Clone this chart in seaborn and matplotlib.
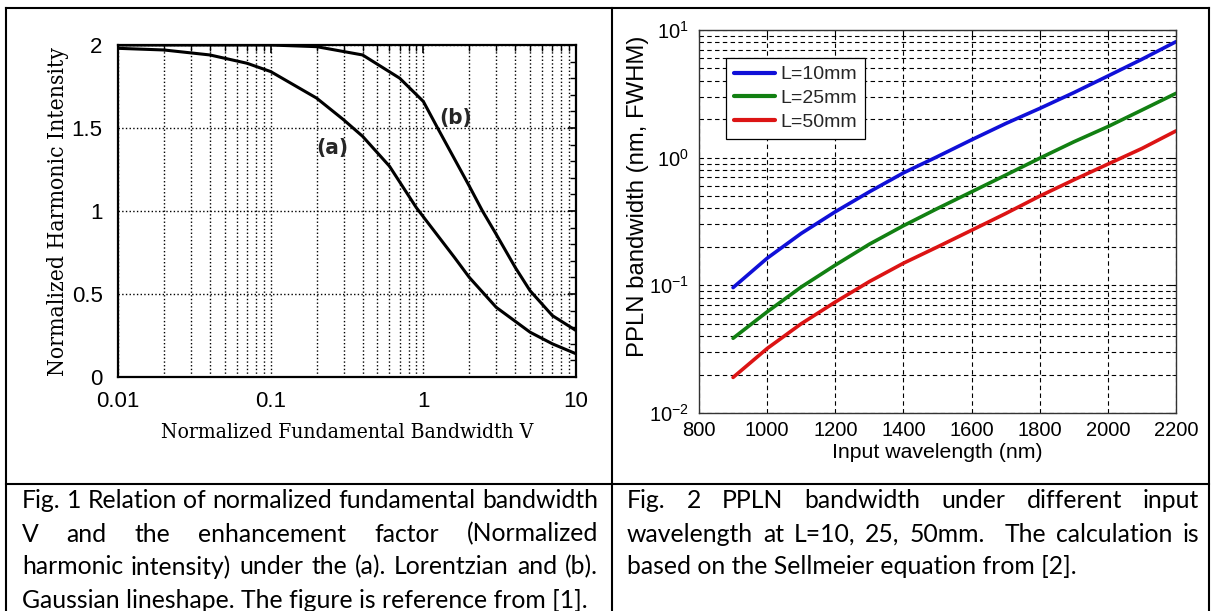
import numpy as np
import pandas as pd
import matplotlib
matplotlib.use("Agg")
import matplotlib.pyplot as plt
from matplotlib.lines import Line2D
from matplotlib.ticker import LogLocator, NullFormatter, FixedLocator, MultipleLocator
import seaborn as sns

# ---------------- data: Fig. 1 ----------------
lorentz_v = [0.01, 0.02, 0.04, 0.07, 0.1, 0.2, 0.3, 0.4, 0.6, 0.9, 1.2, 1.6, 2.0, 3.0, 5.0, 7.0, 10.0]
lorentz_i = [1.98, 1.97, 1.94, 1.89, 1.84, 1.68, 1.55, 1.45, 1.27, 1.02, 0.87, 0.72, 0.60, 0.42, 0.27, 0.20, 0.14]
gauss_v = [0.01, 0.05, 0.1, 0.2, 0.4, 0.7, 1.0, 1.24, 2.0, 2.44, 3.0, 4.0, 5.0, 7.0, 10.0]
gauss_i = [2.0, 2.0, 2.0, 1.99, 1.94, 1.80, 1.66, 1.50, 1.15, 1.0, 0.86, 0.66, 0.52, 0.37, 0.28]
fig1_xticks = [0.01, 0.1, 1, 10]
fig1_xticklabels = ["0.01", "0.1", "1", "10"]
fig1_yticks = [0, 0.5, 1, 1.5, 2]
fig1_yticklabels = ["0", "0.5", "1", "1.5", "2"]

# ---------------- data: Fig. 2 ----------------
wavelength = [900, 1000, 1100, 1200, 1300, 1400, 1500, 1600, 1700, 1800, 1900, 2000, 2100, 2200]
bw_10mm = [0.096, 0.163, 0.255, 0.377, 0.54, 0.76, 1.02, 1.38, 1.85, 2.43, 3.23, 4.36, 5.9, 8.1]
bw_25mm = [0.0385, 0.062, 0.097, 0.144, 0.21, 0.293, 0.40, 0.54, 0.73, 0.99, 1.33, 1.75, 2.36, 3.19]
bw_50mm = [0.019, 0.032, 0.050, 0.074, 0.107, 0.149, 0.20, 0.27, 0.365, 0.50, 0.67, 0.89, 1.18, 1.62]
series_names = ["L=10mm", "L=25mm", "L=50mm"]
series_colors = ["#1010d8", "#128012", "#dc1414"]
fig2_xticks = [800, 1000, 1200, 1400, 1600, 1800, 2000, 2200]

caption_left = [
    "Fig. 1 Relation of normalized fundamental bandwidth",
    "V and the enhancement factor (Normalized",
    "harmonic intensity) under the (a). Lorentzian and (b).",
    "Gaussian lineshape. The figure is reference from [1].",
]
caption_right = [
    "Fig. 2 PPLN bandwidth under different input",
    "wavelength at L=10, 25, 50mm.  The calculation is",
    "based on the Sellmeier equation from [2].",
]

# ---------------- figure ----------------
sns.set_style("white")
plt.rcParams["font.family"] = ["Liberation Sans", "DejaVu Sans"]
plt.rcParams["mathtext.fontset"] = "custom"
plt.rcParams["mathtext.rm"] = "Liberation Sans"
plt.rcParams["mathtext.it"] = "Liberation Sans:italic"
plt.rcParams["mathtext.bf"] = "Liberation Sans:bold"

W, H = 1214, 611
fig = plt.figure(figsize=(W / 100, H / 100), dpi=100)
fig.patch.set_facecolor("white")
renderer = fig.canvas.get_renderer()


def fx(px):
    return px / W


def fy(py):
    return 1 - py / H


def fit(t, target, dim="w"):
    bb = t.get_window_extent(renderer)
    cur = bb.width if dim == "w" else bb.height
    t.set_fontsize(t.get_fontsize() * target / cur)


# ---- left chart ----
L0, L1, T0, B0 = 118, 576, 45, 377
ax1 = fig.add_axes([fx(L0), fy(B0), (L1 - L0) / W, (B0 - T0) / H])
sns.lineplot(x=lorentz_v, y=lorentz_i, ax=ax1, color="black", lw=2.2, estimator=None, sort=False)
sns.lineplot(x=gauss_v, y=gauss_i, ax=ax1, color="black", lw=2.2, estimator=None, sort=False)
ax1.set_xscale("log")
ax1.set_xlim(0.01, 10)
ax1.set_ylim(0, 2)
ax1.xaxis.set_major_locator(FixedLocator(fig1_xticks))
ax1.set_xticklabels(fig1_xticklabels)
ax1.xaxis.set_minor_locator(LogLocator(base=10, subs=np.arange(2, 10)))
ax1.xaxis.set_minor_formatter(NullFormatter())
ax1.set_yticks(fig1_yticks)
ax1.set_yticklabels(fig1_yticklabels)
ax1.yaxis.set_minor_locator(MultipleLocator(0.1))
ax1.grid(False)
ax1.yaxis.grid(True, which="major", ls=":", color="black", lw=1.0)
ax1.xaxis.grid(True, which="both", ls=":", color="black", lw=1.0)
for s in ax1.spines.values():
    s.set_color("black")
    s.set_linewidth(1.6)
ax1.tick_params(which="both", direction="in", top=True, right=True, colors="black", labelsize=16)
ax1.tick_params(which="major", length=6, width=1.2)
ax1.tick_params(which="minor", length=4, width=1.0)
ax1.tick_params(axis="x", pad=10)
ax1.tick_params(axis="y", pad=11)
ax1.text(0.254, 1.38, "(a)", ha="center", va="center", fontsize=16, fontweight="bold",
         fontstretch="condensed", family=["DejaVu Sans"])
ax1.text(1.62, 1.56, "(b)", ha="center", va="center", fontsize=16, fontweight="bold",
         fontstretch="condensed", family=["DejaVu Sans"])
yl = ax1.set_ylabel("Normalized Harmonic Intensity", family=["DejaVu Serif"], fontsize=14,
                    fontstretch="condensed", color="black")
yl.set_va("center")
ax1.yaxis.set_label_coords((58 - L0) / (L1 - L0), 0.5)
fit(yl, 330, "h")
xl = ax1.set_xlabel("Normalized Fundamental Bandwidth V", family=["DejaVu Serif"], fontsize=14,
                    fontstretch="condensed", color="black")
xl.set_va("center")
ax1.xaxis.set_label_coords(0.5, -(432 - B0) / (B0 - T0))
fit(xl, 376, "w")

# ---- right chart ----
R0, R1, RT, RB = 699, 1176, 30, 413
ax2 = fig.add_axes([fx(R0), fy(RB), (R1 - R0) / W, (RB - RT) / H])
df = pd.DataFrame({
    "wavelength": wavelength * 3,
    "bandwidth": bw_10mm + bw_25mm + bw_50mm,
    "L": [series_names[0]] * len(wavelength) + [series_names[1]] * len(wavelength) + [series_names[2]] * len(wavelength),
})
sns.lineplot(data=df, x="wavelength", y="bandwidth", hue="L", palette=series_colors,
             lw=2.6, ax=ax2, estimator=None, sort=False)
ax2.set_yscale("log")
ax2.set_ylim(1e-2, 1e1)
ax2.set_xlim(800, 2200)
ax2.set_xticks(fig2_xticks)
ax2.yaxis.set_major_locator(LogLocator(base=10, numticks=10))
ax2.yaxis.set_minor_locator(LogLocator(base=10, subs=np.arange(2, 10), numticks=20))
ax2.yaxis.set_minor_formatter(NullFormatter())
ax2.grid(False)
ax2.yaxis.grid(True, which="both", ls=(0, (4, 3)), color="black", lw=0.8)
ax2.xaxis.grid(True, which="major", ls=(0, (4, 3)), color="black", lw=0.8)
for s in ax2.spines.values():
    s.set_color("#333333")
    s.set_linewidth(1.0)
ax2.tick_params(which="both", direction="in", top=True, right=True, colors="black", labelsize=14.5)
ax2.tick_params(which="major", length=5, width=0.8)
ax2.tick_params(which="minor", length=3, width=0.6)
ax2.tick_params(axis="x", pad=6)
ax2.tick_params(axis="y", pad=7)
ax2.set_xlabel("Input wavelength (nm)", fontsize=15, color="black")
ax2.xaxis.label.set_va("center")
ax2.xaxis.set_label_coords(0.5, -(452 - RB) / (RB - RT))
fit(ax2.xaxis.label, 212, "w")
ax2.set_ylabel("PPLN bandwidth (nm, FWHM)", fontsize=16, color="black")
ax2.yaxis.label.set_va("center")
ax2.yaxis.set_label_coords((638 - R0) / (R1 - R0), (RB - 196) / (RB - RT))
fit(ax2.yaxis.label, 322, "h")
handles, labels = ax2.get_legend_handles_labels()
leg = ax2.legend(handles, labels, loc="upper left",
                 bbox_to_anchor=((726 - R0) / (R1 - R0), 1 - (58 - RT) / (RB - RT)),
                 borderaxespad=0, fontsize=14, handlelength=2.1, handletextpad=0.3,
                 labelspacing=0.32, borderpad=0.4, fancybox=False, framealpha=1,
                 edgecolor="black")
leg.get_frame().set_linewidth(0.9)
for h in leg.get_lines():
    h.set_linewidth(3.0)

# ---- table lines ----
lw_tab = 1.5
for (xa, ya, xb, yb) in [(6, 8, 1209, 8), (6, 484, 1209, 484), (6, 8, 6, 611),
                         (612, 8, 612, 611), (1209, 8, 1209, 611)]:
    fig.add_artist(Line2D([fx(xa), fx(xb)], [fy(ya), fy(yb)], transform=fig.transFigure,
                          color="black", lw=lw_tab, solid_capstyle="projecting"))

# ---- captions ----
cap_family = ["Lato", "DejaVu Sans"]
probe = fig.text(0, 0, caption_left[-1], fontsize=16, family=cap_family)
fit(probe, 568, "w")
cap_fs = probe.get_fontsize()
probe.remove()


def caption(lines, x0, x1, y_first, step):
    for i, line in enumerate(lines):
        yc = y_first + i * step
        last = i == len(lines) - 1
        if last:
            fig.text(fx(x0), fy(yc), line, fontsize=cap_fs, family=cap_family,
                     ha="left", va="center", color="black")
            continue
        words = line.split(" ")
        ts = [fig.text(0, fy(yc), w, fontsize=cap_fs, family=cap_family, ha="left",
                       va="center", color="black") for w in words]
        widths = [t.get_window_extent(renderer).width if w else 0.0 for t, w in zip(ts, words)]
        gap = (x1 - x0 - sum(widths)) / (len(words) - 1)
        x = x0
        for t, w in zip(ts, widths):
            t.set_x(fx(x))
            x += w + gap


caption(caption_left, 22, 598, 501, 33)
caption(caption_right, 627, 1199, 501, 33)

fig.savefig("out.png", dpi=100, facecolor="white")
